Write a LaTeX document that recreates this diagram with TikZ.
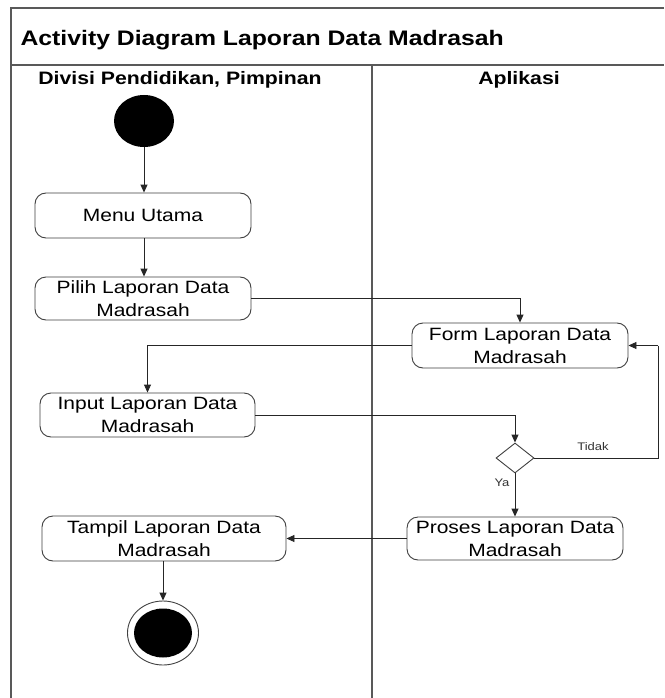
\documentclass[tikz,border=0pt]{standalone}
\usepackage{fontspec}
\setmainfont{Liberation Sans}[FakeStretch=1.18]
\usetikzlibrary{shapes.geometric,arrows.meta}
\tikzset{
  act/.style={draw=black!75,line width=0.9pt,rounded corners=11pt,align=center,
    font=\fontsize{17.8}{23}\selectfont,inner sep=0pt,minimum height=44pt},
  flow/.style={draw=black!85,line width=0.9pt,-{Triangle[length=8pt,width=7pt]}},
  plain/.style={draw=black!85,line width=0.9pt},
  lane/.style={draw=black!65,line width=1.6pt},
  hdr/.style={font=\bfseries\fontsize{18}{22}\selectfont},
  lbl/.style={font=\fontsize{11}{13}\selectfont,text=black!80},
  startnode/.style={ellipse,fill=black,minimum width=60pt,minimum height=52pt,inner sep=0pt},
  dec/.style={diamond,draw=black!75,line width=0.9pt,minimum width=38pt,minimum height=30pt,inner sep=0pt,aspect=1.27}
}
\begin{document}
\begin{tikzpicture}[x=1pt,y=-1pt]
\useasboundingbox (0,0) rectangle (664,698);
\fill[white] (0,0) rectangle (664,698);
% frame
\draw[lane] (664,8) -- (11,8) -- (11,698);
\draw[lane] (11,65) -- (664,65);
\draw[lane] (372,65) -- (372,698);
\node[anchor=west,font=\bfseries\fontsize{21}{25}\selectfont] (title) at (17,40) {Activity Diagram Laporan Data Madrasah};
\node[hdr] (lane1) at (180,80) {Divisi Pendidikan, Pimpinan};
\node[hdr] (lane2) at (519,80) {Aplikasi};
% nodes
\node[startnode] (start) at (144,121) {};
\node[act,minimum width=216pt,minimum height=45pt] (menu) at (143,215.5) {Menu Utama};
\node[act,minimum width=216pt,minimum height=43pt] (pilih) at (143,298.5) {Pilih Laporan Data\\Madrasah};
\node[act,minimum width=216pt,minimum height=45pt] (form) at (520,345.5) {Form Laporan Data\\Madrasah};
\node[act,minimum width=215pt,minimum height=44pt] (input) at (147.5,415) {Input Laporan Data\\Madrasah};
\node[dec] (dec) at (515,458) {};
\node[act,minimum width=216pt,minimum height=43pt] (proses) at (515,538.5) {Proses Laporan Data\\Madrasah};
\node[act,minimum width=244pt,minimum height=45pt] (tampil) at (164,538.5) {Tampil Laporan Data\\Madrasah};
\node[ellipse,draw=black!75,line width=0.9pt,minimum width=71pt,minimum height=64pt,inner sep=0pt] (end) at (163,633) {};
\node[ellipse,fill=black,minimum width=58pt,minimum height=49pt,inner sep=0pt] (endin) at (163,633) {};
\coordinate (fbk1) at (658,458);
\coordinate (fbk2) at (658,345.5);
% connectors
\draw[flow] (start) -- (menu.north -| start);
\draw[flow] (menu.south -| start) -- (pilih.north -| start);
\draw[flow] (pilih.east) -| (form.north);
\draw[flow] (form.west) -| (input.north);
\draw[flow] (input.east) -| (dec.north);
\draw[flow] (dec.south) -- (proses.north);
\draw[plain] (dec.east) -- (fbk1) -- (fbk2);
\draw[flow] (fbk2) -- (form.east);
\draw[flow] (proses.west) -- (tampil.east);
\draw[flow] (tampil.south -| end) -- (end.north);
\node[lbl] (tidak) at (593,447) {Tidak};
\node[lbl] (ya) at (502,483) {Ya};
\end{tikzpicture}
\end{document}
